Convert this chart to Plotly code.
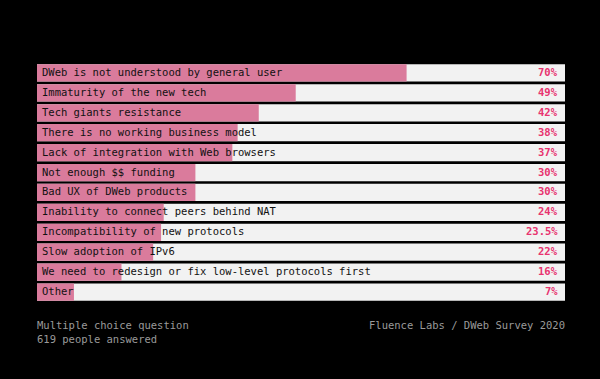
import plotly.graph_objects as go

categories = [
    "DWeb is not understood by general user",
    "Immaturity of the new tech",
    "Tech giants resistance",
    "There is no working business model",
    "Lack of integration with Web browsers",
    "Not enough $$ funding",
    "Bad UX of DWeb products",
    "Inability to connect peers behind NAT",
    "Incompatibility of new protocols",
    "Slow adoption of IPv6",
    "We need to redesign or fix low-level protocols first",
    "Other",
]
values = [70, 49, 42, 38, 37, 30, 30, 24, 23.5, 22, 16, 7]
value_labels = ["70%", "49%", "42%", "38%", "37%", "30%", "30%", "24%", "23.5%", "22%", "16%", "7%"]
full_scale = [100] * len(categories)

FONT = "DejaVu Sans Mono"
PINK = "#da7b9c"
VAL = "#e8336f"
TRACK = "#f2f2f2"

fig = go.Figure()
fig.add_trace(go.Bar(y=categories, x=full_scale, orientation="h",
                     marker=dict(color=TRACK, line=dict(width=0)), hoverinfo="skip"))
fig.add_trace(go.Bar(y=categories, x=values, orientation="h",
                     marker=dict(color=PINK, line=dict(width=0))))

for c, lab in zip(categories, value_labels):
    fig.add_annotation(x=0, y=c, text=c, showarrow=False, xanchor="left", xshift=3, yshift=1,
                       font=dict(family=FONT, size=10.5, color="#111111"))
    fig.add_annotation(x=100, y=c, text="<b>" + lab + "</b>", showarrow=False, xanchor="right",
                       xshift=-5, yshift=1, font=dict(family=FONT, size=10.5, color=VAL))

fig.add_annotation(xref="paper", yref="paper", x=0, y=-0.065, yanchor="top", xanchor="left",
                   xshift=-2, yshift=1,
                   text="Multiple choice question<br>619 people answered", showarrow=False, align="left",
                   font=dict(family=FONT, size=10.5, color="#9a9a9a"))
fig.add_annotation(xref="paper", yref="paper", x=1, y=-0.065, yanchor="top", xanchor="right",
                   xshift=2, yshift=1,
                   text="Fluence Labs / DWeb Survey 2020", showarrow=False, align="right",
                   font=dict(family=FONT, size=10.5, color="#9a9a9a"))

fig.update_layout(
    width=600, height=379,
    paper_bgcolor="#000000", plot_bgcolor="#000000",
    margin=dict(l=37, r=35, t=63, b=77),
    barmode="overlay", bargap=0.13, showlegend=False,
    xaxis=dict(range=[0, 100], visible=False, fixedrange=True),
    yaxis=dict(autorange="reversed", visible=False, fixedrange=True),
)

fig.write_html("out.html", config={"displayModeBar": False},
               post_script="document.body.style.margin='0';document.body.style.background='#000';")
